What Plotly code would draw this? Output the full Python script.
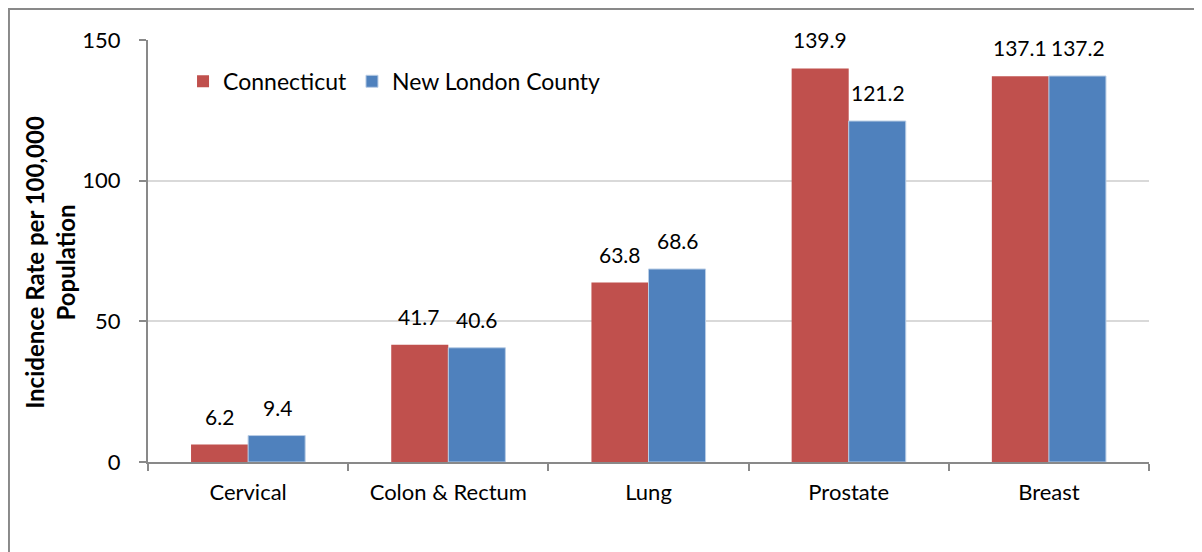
import plotly.graph_objects as go

# cancer incidence rates per 100,000 population
categories = ['Cervical', 'Colon & Rectum', 'Lung', 'Prostate', 'Breast']
connecticut = [6.2, 41.7, 63.8, 139.9, 137.1]
new_london = [9.4, 40.6, 68.6, 121.2, 137.2]

font_name = 'Lato, Open Sans, sans-serif'

fig = go.Figure()
fig.add_trace(go.Bar(x=categories, y=connecticut, name='Connecticut',
                     marker_color='#C0504D', marker_line_width=0))
fig.add_trace(go.Bar(x=categories, y=new_london, name='New London County',
                     marker_color='#4F81BD', marker_line_width=1,
                     marker_line_color='#B9CDE5'))

# data labels sit a bit higher above bars than plotly's 'outside' text
for vals, dx in [(connecticut, -29), (new_london, 29)]:
    for cat, v in zip(categories, vals):
        fig.add_annotation(x=cat, y=v, text=f'{v:.1f}', showarrow=False,
                           xshift=dx, yshift=14, yanchor='bottom',
                           font=dict(size=21, color='black'))

# y axis title as a rotated annotation (centred a little below the plot middle)
fig.add_annotation(xref='paper', yref='paper', x=-0.098, y=0.474,
                   text='<b>Incidence Rate per 100,000<br>Population</b>',
                   textangle=-90, showarrow=False, xanchor='center', yanchor='middle',
                   font=dict(size=24, color='black'))

# page body adds an 8px offset, so margins are trimmed on top/left
fig.update_layout(
    width=1202, height=552,
    margin=dict(l=140, r=61, t=32, b=98),
    paper_bgcolor='white', plot_bgcolor='white',
    font=dict(family=font_name, size=21, color='black'),
    barmode='group', bargap=0.43, bargroupgap=0,
    legend=dict(orientation='h', x=0.035, y=0.953, xanchor='left', yanchor='top',
                font=dict(size=23), bgcolor='rgba(0,0,0,0)', itemwidth=30),
    showlegend=True,
)
fig.update_xaxes(automargin=False, showline=True, linecolor='#898989', linewidth=2,
                 ticks='outside', tickson='boundaries', ticklen=7, tickcolor='#898989',
                 tickwidth=2, showgrid=False, tickfont=dict(size=22),
                 ticklabelstandoff=10)
fig.update_yaxes(automargin=False, range=[0, 150], dtick=50, showline=True,
                 linecolor='#898989', linewidth=2,
                 ticks='outside', ticklen=7, tickcolor='#898989', tickwidth=2,
                 showgrid=True, gridcolor='#D9D9D9', gridwidth=1.5, zeroline=False,
                 tickfont=dict(size=22), ticklabelstandoff=14)

# outer chart border
fig.add_shape(type='rect', xref='paper', yref='paper',
              x0=-0.1389, x1=1.2, y0=-0.3, y1=1.0735,
              line=dict(color='#898989', width=2))

fig.write_html('out.html')
